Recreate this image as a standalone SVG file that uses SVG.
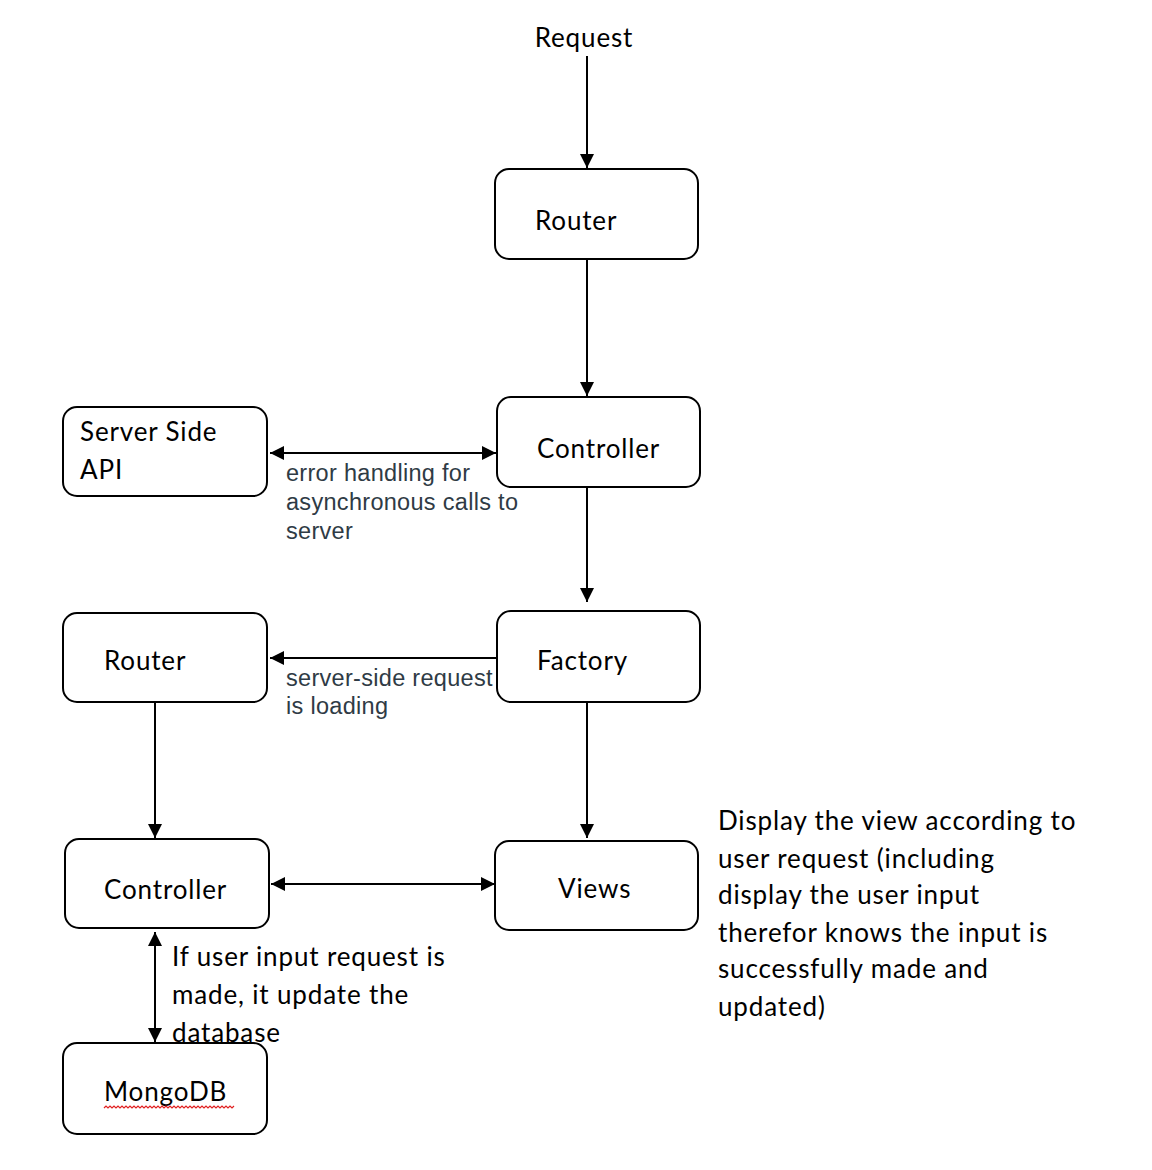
<svg xmlns="http://www.w3.org/2000/svg" width="1152" height="1170" viewBox="0 0 1152 1170">
<style>
.box{fill:#fff;stroke:#000;stroke-width:2}
.t{font-family:Lato,"Open Sans","Liberation Sans",sans-serif;font-size:26px;letter-spacing:0.85px;fill:#000}
.lbl{font-family:"Liberation Sans",Arial,sans-serif;font-size:23.5px;letter-spacing:0.3px;fill:#2f3b45}
.ln{stroke:#000;stroke-width:2;fill:none}
</style>
<defs>
<marker id="ah" viewBox="0 0 10 10" refX="10" refY="5" markerWidth="14" markerHeight="14" markerUnits="userSpaceOnUse" orient="auto-start-reverse">
<path d="M0,0 L10,5 L0,10 z" fill="#000"/>
</marker>
</defs>
<rect width="1152" height="1170" fill="#fff"/>
<g id="connectors">
<line class="ln" x1="587" y1="56" x2="587" y2="168" marker-end="url(#ah)"/>
<line class="ln" x1="587" y1="260" x2="587" y2="396" marker-end="url(#ah)"/>
<line class="ln" x1="270" y1="453" x2="496" y2="453" marker-start="url(#ah)" marker-end="url(#ah)"/>
<line class="ln" x1="587" y1="488" x2="587" y2="602" marker-end="url(#ah)"/>
<line class="ln" x1="497" y1="658" x2="270" y2="658" marker-end="url(#ah)"/>
<line class="ln" x1="155" y1="703" x2="155" y2="838" marker-end="url(#ah)"/>
<line class="ln" x1="587" y1="703" x2="587" y2="838" marker-end="url(#ah)"/>
<line class="ln" x1="271" y1="884" x2="495" y2="884" marker-start="url(#ah)" marker-end="url(#ah)"/>
<line class="ln" x1="155" y1="932" x2="155" y2="1042" marker-start="url(#ah)" marker-end="url(#ah)"/>
</g>
<g id="request"><text class="t" x="584" y="47" text-anchor="middle">Request</text></g>
<g id="router1"><rect class="box" x="495" y="169" width="203" height="90" rx="14"/><text class="t" x="535" y="230">Router</text></g>
<g id="controller1"><rect class="box" x="497" y="397" width="203" height="90" rx="14"/><text class="t" x="537" y="458">Controller</text></g>
<g id="serverapi"><rect class="box" x="63" y="407" width="204" height="89" rx="14"/><text class="t" x="80" y="441">Server Side</text><text class="t" x="80" y="479">API</text></g>
<g id="label-error"><text class="lbl" x="286" y="481">error handling for</text><text class="lbl" x="286" y="510">asynchronous calls to</text><text class="lbl" x="286" y="539">server</text></g>
<g id="factory"><rect class="box" x="497" y="611" width="203" height="91" rx="14"/><text class="t" x="537" y="670">Factory</text></g>
<g id="router2"><rect class="box" x="63" y="613" width="204" height="89" rx="14"/><text class="t" x="104" y="670">Router</text></g>
<g id="label-loading"><text class="lbl" x="286" y="686">server-side request</text><text class="lbl" x="286" y="714">is loading</text></g>
<g id="controller2"><rect class="box" x="65" y="839" width="204" height="89" rx="14"/><text class="t" x="104" y="899">Controller</text></g>
<g id="views"><rect class="box" x="495" y="841" width="203" height="89" rx="14"/><text class="t" x="558" y="898">Views</text></g>
<g id="mongodb"><rect class="box" x="63" y="1043" width="204" height="91" rx="14"/><text class="t" x="104" y="1101">MongoDB</text>
<path d="M104,1108 l2,-2 l2,2 l2,-2 l2,2 l2,-2 l2,2 l2,-2 l2,2 l2,-2 l2,2 l2,-2 l2,2 l2,-2 l2,2 l2,-2 l2,2 l2,-2 l2,2 l2,-2 l2,2 l2,-2 l2,2 l2,-2 l2,2 l2,-2 l2,2 l2,-2 l2,2 l2,-2 l2,2 l2,-2 l2,2 l2,-2 l2,2 l2,-2 l2,2 l2,-2 l2,2 l2,-2 l2,2 l2,-2 l2,2 l2,-2 l2,2 l2,-2 l2,2 l2,-2 l2,2 l2,-2 l2,2 l2,-2 l2,2 l2,-2 l2,2 l2,-2 l2,2 l2,-2 l2,2 l2,-2 l2,2 l2,-2 l2,2 l2,-2 l2,2 l2,-2" fill="none" stroke="#e02020" stroke-width="1.2"/></g>
<g id="label-db"><text class="t" x="172" y="966">If user input request is</text><text class="t" x="172" y="1004">made, it update the</text><text class="t" x="172" y="1042">database</text></g>
<g id="label-views"><text class="t" x="718" y="830">Display the view according to</text><text class="t" x="718" y="868">user request (including</text><text class="t" x="718" y="904">display the user input</text><text class="t" x="718" y="942">therefor knows the input is</text><text class="t" x="718" y="978">successfully made and</text><text class="t" x="718" y="1016">updated)</text></g>
</svg>
